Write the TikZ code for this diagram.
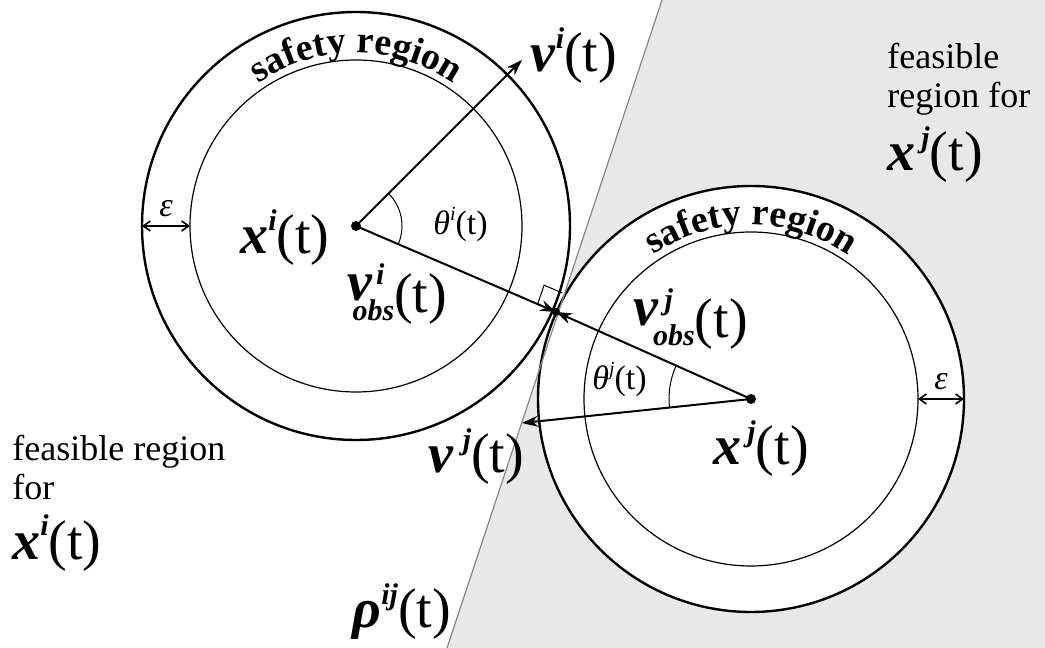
\documentclass[tikz,border=0pt]{standalone}
\usepackage{fontspec}
\setmainfont{Liberation Serif}
\usetikzlibrary{arrows.meta,calc,positioning,decorations.text}

\definecolor{regiongray}{RGB}{232,232,232}
\definecolor{sepgray}{RGB}{135,135,135}

\newcommand{\bvec}[1]{\textbf{\textit{#1}}}
\newcommand{\bigsz}{\fontsize{28}{30}\selectfont}
\newcommand{\midsz}{\fontsize{17}{19}\selectfont}
\newcommand{\txtsz}{\fontsize{18}{19.5}\selectfont}
\newcommand{\supsz}{\fontsize{15}{15}\selectfont}
\newcommand{\tinysz}{\fontsize{10}{10}\selectfont}
\newcommand{\bsup}[2]{\bvec{#1}\raisebox{0.42em}{\supsz\bvec{#2}}}
\newcommand{\thsup}[1]{\textit{θ}\raisebox{0.42em}{\tinysz\textit{#1}}}
\newcommand{\vobs}[2]{\raisebox{0.23em}{\bvec{v}}\rlap{\kern0.06em\raisebox{0.5em}{\supsz\bvec{#1}}}\kern#2\raisebox{-0.14em}{\supsz\bvec{obs}}}

\tikzset{
  outercirc/.style={draw=black,fill=white,line width=1.2pt},
  innercirc/.style={draw=black,line width=0.6pt},
  sepline/.style={draw=sepgray,line width=0.6pt},
  vecarrow/.style={line width=1pt,-{Stealth[length=8pt,width=5.5pt]}},
  epsarrow/.style={line width=0.8pt,{Straight Barb[length=3.5pt,width=5pt]}-{Straight Barb[length=3.5pt,width=5pt]}},
  anglearc/.style={line width=0.5pt},
  biglabel/.style={font=\bigsz,inner sep=0pt,anchor=base west},
  smalllabel/.style={font=\midsz,inner sep=0pt},
  plaintext/.style={font=\txtsz,inner sep=0pt,align=left},
  safetytext/.style={decorate,decoration={text along path,text align=center,
    text={|\fontsize{19}{20}\selectfont\bfseries|safety region}}}
}

\begin{document}
\begin{tikzpicture}[x=0.5pt,y=0.5pt]
\useasboundingbox (0,0) rectangle (1045,648);
\coordinate (ptop) at (662,648);
\coordinate (pbot) at (447,0);
\fill[regiongray] (ptop) -- (1045,648) -- (1045,0) -- (pbot) -- cycle;

\coordinate (ci) at (356,422);
\coordinate (cj) at (751,249);
\coordinate (touch) at (556,336);
\coordinate (vitip) at (522,588);
\coordinate (vjtip) at (522,225);

\draw[outercirc] (ci) circle (214);
\draw[innercirc] (ci) circle (166);
\draw[outercirc] (cj) circle (213);
\draw[innercirc] (cj) circle (167);
\draw[sepline] (pbot) -- (ptop);

\path[safetytext] (ci) ++(160:173) arc (160:20:173);
\path[safetytext] (cj) ++(160:174) arc (160:20:174);

\path (ci) ++(180:214) coordinate (epsia) (ci) ++(180:166) coordinate (epsib);
\path (cj) ++(0:167) coordinate (epsja) (cj) ++(0:213) coordinate (epsjb);
\draw[epsarrow] (epsia) -- (epsib) node[midway,above=4pt,smalllabel] (epsi) {\textit{ε}};
\draw[epsarrow] (epsja) -- (epsjb) node[midway,above=4pt,smalllabel] (epsj) {\textit{ε}};

\draw[anglearc] (ci) ++(-23:46) arc (-23:45:46);
\draw[anglearc] (cj) ++(156:82) arc (156:186:82);

\draw[vecarrow] (ci) -- (vitip);
\draw[vecarrow] (ci) -- (touch);
\draw[vecarrow] (cj) -- (touch);
\draw[vecarrow] (cj) -- (vjtip);
\fill (ci) circle (5);
\fill (cj) circle (5);
\fill (touch) circle (4);

\coordinate (raa) at ($(touch)!10pt!(ci)$);
\coordinate (rab) at ($(touch)!10pt!(ptop)$);
\draw[line width=0.5pt] (raa) -- ($(raa)+(rab)-(touch)$) -- (rab);

\node[biglabel] (xilab) at (240,394) {\bsup{x}{i}(t)};
\node[biglabel] (vilab) at (530,576) {\bsup{v}{i}(t)};
\node[biglabel] (voilab) at (347,335) {\vobs{i}{-0.36em}(t)};
\node[biglabel] (vojlab) at (633,310) {\vobs{\kern0.08em j}{-0.1em}(t)};
\node[biglabel] (xjlab) at (713,183) {\bsup{x}{\kern0.2em j}(t)};
\node[biglabel] (vjlab) at (428,175) {\bsup{v}{\kern0.3em j}(t)};
\node[biglabel] (rholab) at (352,20) {\bsup{ρ}{ij}(t)};
\node[smalllabel,anchor=base west] (thilab) at (433,413) {\thsup{i}(t)};
\node[smalllabel,anchor=base west] (thjlab) at (592,258) {\thsup{j}(t)};

\node[plaintext,anchor=north west] (feasi) at (12,213) {feasible region\\for};
\node[biglabel,below right=7pt and 0pt of feasi.south west] (feasix) {\bsup{x}{i}(t)};
\node[plaintext,anchor=north west] (feasj) at (887,605) {feasible\\region for};
\node[biglabel,below right=5pt and 0pt of feasj.south west] (feasjx) {\bsup{x}{\kern0.2em j}(t)};
\end{tikzpicture}
\end{document}
